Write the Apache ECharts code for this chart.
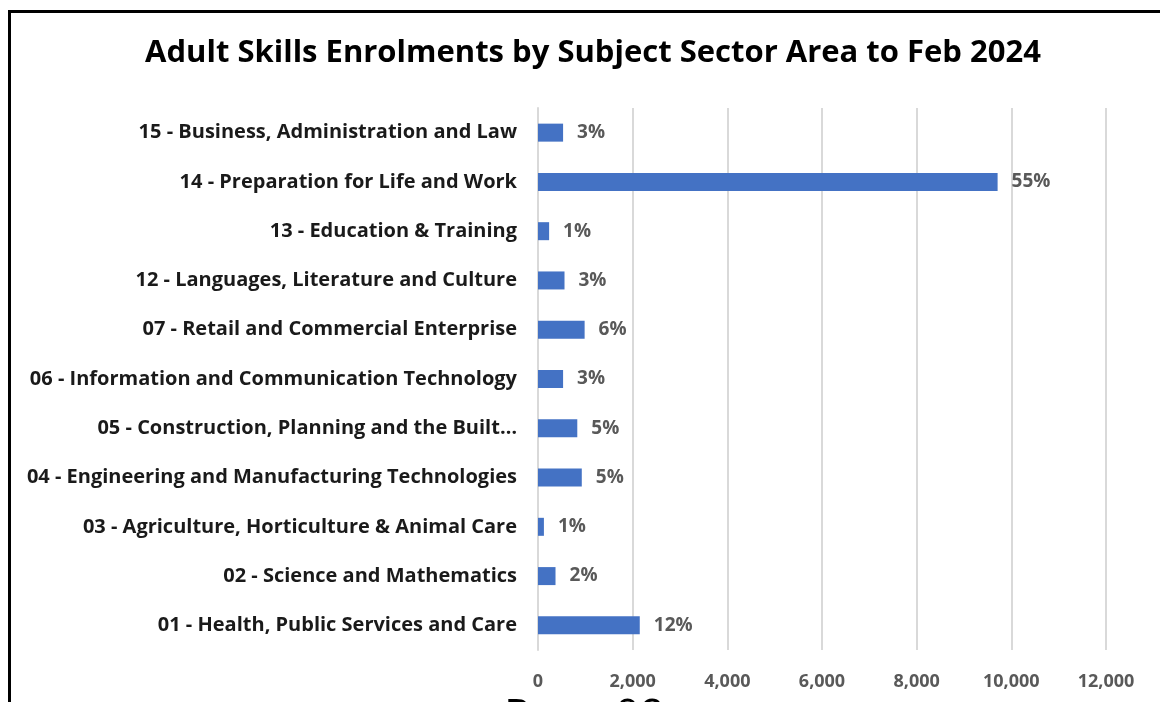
<!DOCTYPE html>
<html>
<head>
<meta charset="utf-8">
<script src="https://cdn.jsdelivr.net/npm/echarts@6/dist/echarts.min.js"></script>
<style>
  html, body { margin: 0; padding: 0; background: #fff; }
  #chart { width: 1160px; height: 702px; }
</style>
</head>
<body>
<div id="chart"></div>
<script>
// Subject sector areas, listed bottom to top
const sectors = [
  '01 - Health, Public Services and Care',
  '02 - Science and Mathematics',
  '03 - Agriculture, Horticulture & Animal Care',
  '04 - Engineering and Manufacturing Technologies',
  '05 - Construction, Planning and the Built\u2026',
  '06 - Information and Communication Technology',
  '07 - Retail and Commercial Enterprise',
  '12 - Languages, Literature and Culture',
  '13 - Education & Training',
  '14 - Preparation for Life and Work',
  '15 - Business, Administration and Law'
];
// Enrolment counts per sector
const enrolments = [2150, 370, 125, 925, 830, 530, 985, 560, 235, 9710, 530];
// Share of all enrolments shown beside each bar
const shareLabels = ['12%', '2%', '1%', '5%', '5%', '3%', '6%', '3%', '1%', '55%', '3%'];
// Value axis ticks
const axisMin = 0, axisMax = 12000, axisStep = 2000;

const FONT = '"Open Sans", Lato, sans-serif';
const chart = echarts.init(document.getElementById('chart'));
chart.setOption({
  animation: false,
  backgroundColor: '#ffffff',
  title: {
    text: 'Adult Skills Enrolments by Subject Sector Area to Feb 2024',
    left: 588, top: 33, textAlign: 'center',
    textStyle: { fontFamily: FONT, fontSize: 31, fontWeight: 'bold', color: '#000000' }
  },
  grid: { left: 538, right: 54, top: 108, bottom: 52, containLabel: false },
  xAxis: {
    type: 'value', min: axisMin, max: axisMax, interval: axisStep,
    axisLine: { show: false }, axisTick: { show: false },
    splitLine: { lineStyle: { color: '#d9d9d9', width: 2 } },
    axisLabel: {
      margin: 23, color: '#595959', fontFamily: FONT, fontSize: 18, fontWeight: 'bold',
      formatter: v => v.toLocaleString('en-US')
    }
  },
  yAxis: {
    type: 'category', data: sectors,
    axisLine: { show: true, lineStyle: { color: '#d9d9d9', width: 2 } },
    axisTick: { show: false },
    axisLabel: { margin: 21, color: '#1a1a1a', fontFamily: FONT, fontSize: 20, fontWeight: 'bold' }
  },
  series: [{
    type: 'bar', data: enrolments, barWidth: 18,
    itemStyle: { color: '#4472c4' },
    label: {
      show: true, position: 'right', distance: 14,
      color: '#595959', fontFamily: FONT, fontSize: 19, fontWeight: 'bold',
      formatter: p => shareLabels[p.dataIndex]
    }
  }],
  graphic: [
    { type: 'rect', left: 7, top: 9, silent: true,
      shape: { x: 0, y: 0, width: 1300, height: 900 },
      style: { fill: 'none', stroke: '#000000', lineWidth: 3 } },
    { type: 'text', left: 504, top: 695, silent: true,
      style: { text: 'Page 09', fill: '#000000', font: '44px ' + FONT } }
  ]
});
</script>
</body>
</html>
